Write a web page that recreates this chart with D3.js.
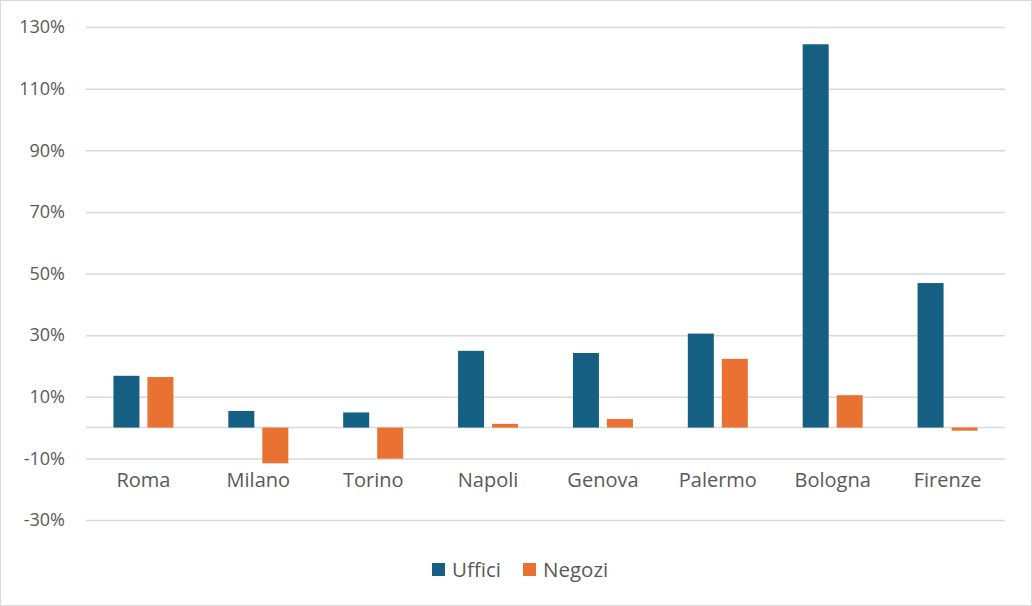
<!DOCTYPE html>
<html><head><meta charset="utf-8">
<script src="https://cdn.jsdelivr.net/npm/d3@7"></script>
<style>body{margin:0;background:#fff;}svg{display:block;}</style>
</head><body>
<script>
const categories = ["Roma","Milano","Torino","Napoli","Genova","Palermo","Bologna","Firenze"];
const seriesNames = ["Uffici","Negozi"];
const uffici = [16.8, 5.4, 4.9, 24.9, 24.2, 30.5, 124.4, 46.9];
const negozi = [16.4, -11.6, -10.1, 1.2, 2.8, 22.3, 10.5, -1.0];
const tickValues = [-30, -10, 10, 30, 50, 70, 90, 110, 130];
const colors = ["#156082", "#E97132"];

(function(){
const W = 1032, H = 606;
const svg = d3.select("body").append("svg").attr("width", W).attr("height", H);
svg.append("rect").attr("x",0.5).attr("y",0.5).attr("width",W-1).attr("height",H-1)
  .attr("fill","#fff").attr("stroke","#D9D9D9");

const mLeft = 86, mRight = 1005, mTop = 27, mBottom = 520;
const y = d3.scaleLinear().domain([-30, 130]).range([mBottom, mTop]);
const x0 = d3.scaleBand().domain(categories).range([mLeft, mRight]).paddingInner(0).paddingOuter(0);
const x1 = d3.scaleBand().domain(seriesNames).range([0, 60]).paddingInner(0.235).paddingOuter(0);

const font = "'Open Sans', sans-serif";

const yAxis = d3.axisLeft(y).tickValues(tickValues).tickSize(-(mRight-mLeft)).tickFormat(d => d + "%");
const gy = svg.append("g").attr("transform", `translate(${mLeft},0)`).call(yAxis);
gy.select(".domain").remove();
gy.selectAll(".tick line").attr("stroke", "#D9D9D9").attr("stroke-width", 1.5);
gy.selectAll(".tick text").attr("x", -21).attr("fill", "#595959")
  .style("font-family", font).style("font-size", "18px");

svg.append("line").attr("x1", mLeft).attr("x2", mRight).attr("y1", y(0)).attr("y2", y(0))
  .attr("stroke", "#D9D9D9").attr("stroke-width", 1.5);

const data = categories.map((c, i) => ({cat: c, vals: [uffici[i], negozi[i]]}));
const groups = svg.append("g").selectAll("g").data(data).join("g")
  .attr("transform", d => `translate(${x0(d.cat) + (x0.bandwidth() - 60) / 2},0)`);
groups.selectAll("rect").data(d => d.vals.map((v, j) => ({v, s: seriesNames[j], j})))
  .join("rect")
  .attr("x", d => x1(d.s))
  .attr("width", x1.bandwidth())
  .attr("y", d => y(Math.max(0, d.v)))
  .attr("height", d => Math.abs(y(d.v) - y(0)))
  .attr("fill", d => colors[d.j]);

const xAxis = d3.axisBottom(x0).tickSize(0);
const gx = svg.append("g").attr("transform", `translate(0,487)`).call(xAxis);
gx.select(".domain").remove();
gx.selectAll(".tick text").attr("fill", "#595959").attr("y", 0).attr("dy", 0)
  .style("font-family", font).style("font-size", "20px");

const legendItems = [{name:"Uffici", x:432}, {name:"Negozi", x:523}];
const lg = svg.append("g");
legendItems.forEach((it, i) => {
  lg.append("rect").attr("x", it.x).attr("y", 563).attr("width", 13).attr("height", 13).attr("fill", colors[i]);
  lg.append("text").attr("x", it.x + 20).attr("y", 577).text(it.name)
    .attr("fill", "#595959").style("font-family", font).style("font-size", "20.5px");
});
})();
</script>
</body></html>
